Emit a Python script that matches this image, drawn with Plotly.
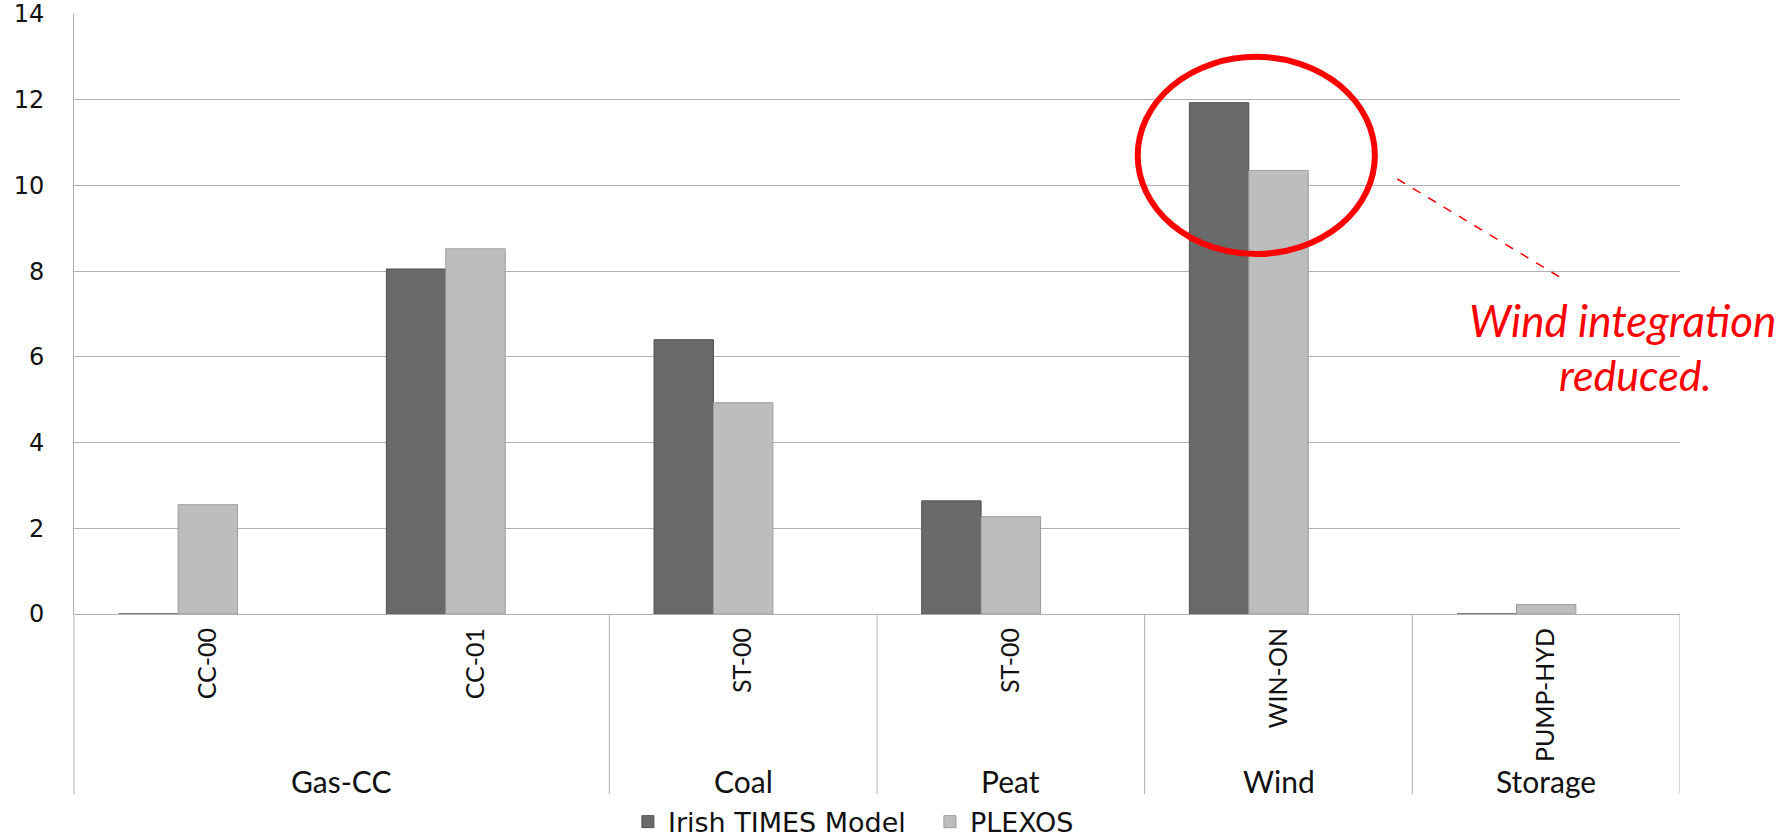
import plotly.graph_objects as go

# ---- data ----
techs = ["CC-00", "CC-01", "ST-00", "ST-00", "WIN-ON", "PUMP-HYD"]
groups = ["Gas-CC", "Coal", "Peat", "Wind", "Storage"]
group_first = [0, 2, 3, 4, 5]
group_last = [1, 2, 3, 4, 5]
times_model = [0.0, 8.05, 6.40, 2.64, 11.93, 0.0]
plexos = [2.55, 8.52, 4.93, 2.27, 10.35, 0.22]
y_ticks = [0, 2, 4, 6, 8, 10, 12, 14]

x_idx = list(range(len(techs)))
BW = 0.222

fig = go.Figure()
fig.add_trace(go.Bar(
    x=x_idx, y=times_model, name="Irish TIMES Model",
    width=BW, offset=-1.5 * BW,
    marker=dict(color="#6a6a6a", line=dict(color="#505050", width=1)),
))
fig.add_trace(go.Bar(
    x=x_idx, y=plexos, name="PLEXOS",
    width=BW, offset=-0.5 * BW,
    marker=dict(color="#bdbdbd", line=dict(color="#9c9c9c", width=1)),
))

grid = "#b0b0b0"
shapes = []
shapes.append(dict(type="line", xref="paper", yref="paper", x0=0, x1=0, y0=0, y1=-0.3,
                   line=dict(color=grid, width=1)))
for gl in group_last:
    shapes.append(dict(type="line", xref="x", yref="paper", x0=gl + 0.5, x1=gl + 0.5,
                       y0=0, y1=-0.3, line=dict(color=grid, width=1)))
shapes.append(dict(type="circle", xref="x", yref="y", x0=3.474, x1=4.36, y0=8.4, y1=13.0,
                   line=dict(color="#ff0000", width=6)))
shapes.append(dict(type="line", xref="paper", yref="paper", x0=0.824, y0=0.725, x1=0.928, y1=0.557,
                   line=dict(color="#ff0000", width=1.5, dash="dash")))

annotations = []
for g, a, b in zip(groups, group_first, group_last):
    annotations.append(dict(x=(a + b) / 2, xref="x", y=-0.278, yref="paper", text=g,
                            showarrow=False, font=dict(family="Lato", size=30, color="#111111"),
                            xanchor="center", yanchor="middle"))
annotations.append(dict(x=0.9645, xref="paper", y=0.49, yref="paper",
                        text="<i>Wind integration</i>", showarrow=False,
                        xanchor="center", yanchor="middle",
                        font=dict(family="Lato", size=44, color="#ff0000")))
annotations.append(dict(x=0.9726, xref="paper", y=0.40, yref="paper",
                        text="<i>reduced.</i>", showarrow=False,
                        xanchor="center", yanchor="middle",
                        font=dict(family="Lato", size=43, color="#ff0000")))

fig.update_layout(
    width=1792, height=838,
    margin=dict(l=74, r=112, t=14, b=224),
    paper_bgcolor="white", plot_bgcolor="white",
    barmode="overlay",
    showlegend=True,
    legend=dict(orientation="h", xref="container", yref="container",
                x=0.3504, xanchor="left", y=0.019, yanchor="middle",
                entrywidth=257, entrywidthmode="pixels",
                font=dict(family="DejaVu Sans", size=27, color="#111111"),
                bgcolor="rgba(0,0,0,0)"),
    shapes=shapes,
    annotations=annotations,
    xaxis=dict(range=[-0.5, 5.5], tickmode="array", tickvals=x_idx, ticktext=techs,
               tickangle=-90, tickfont=dict(family="Lato", size=25, color="#111111"),
               showgrid=False, showline=False, zeroline=False, ticks="",
               ticklabelstandoff=8, automargin=False),
    yaxis=dict(range=[0, 14], tickmode="array", tickvals=y_ticks,
               tickfont=dict(family="DejaVu Sans", size=24, color="#111111"),
               showgrid=True, gridcolor=grid, gridwidth=1,
               zeroline=True, zerolinecolor=grid, zerolinewidth=1,
               showline=True, linecolor=grid, linewidth=1,
               ticks="", ticklabelstandoff=24, automargin=False),
)

fig.write_html("out.html", config={"displayModeBar": False},
               post_script="document.body.style.margin='0';")
